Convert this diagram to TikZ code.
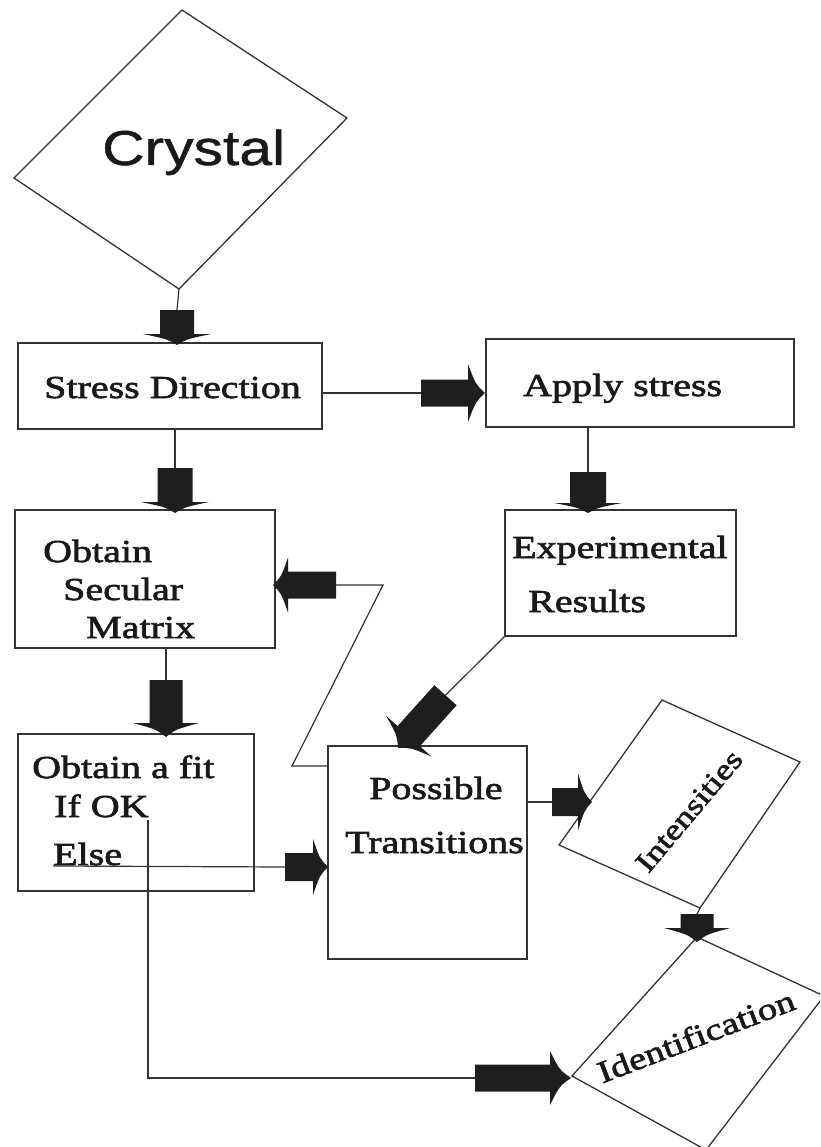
\documentclass[tikz,border=0pt]{standalone}
\usepackage{fontspec}
\setmainfont{Liberation Serif}[FakeStretch=1.25,FakeBold=2]
\newfontfamily\crysfont{Liberation Sans}[FakeStretch=1.2,FakeBold=1]
\usetikzlibrary{calc}
\definecolor{linec}{HTML}{333333}
\definecolor{arrowfill}{HTML}{1E1E1E}
\newcommand\lblfont{\fontsize{32}{38}\selectfont}
% name, tip, angle, shaft length, shaft half width, head length, head half width
\newcommand\barrow[7]{%
  \begin{scope}[shift={#2},rotate=#3]
    \fill[arrowfill] (0,0) .. controls ({-0.55*#6},{0.3*#7}) .. ({-#6},{#7})
      -- ({-#6},{#5}) -- ({-#6-#4},{#5}) -- ({-#6-#4},{-#5}) -- ({-#6},{-#5})
      -- ({-#6},{-#7}) .. controls ({-0.55*#6},{-0.3*#7}) .. (0,0) -- cycle;
    \coordinate (#1) at ({-#6-#4},0);
  \end{scope}}
\begin{document}
\begin{tikzpicture}[x=1pt,y=-1pt,
  box/.style={draw=linec, line width=1.3pt, rectangle, inner sep=0pt},
  shapeline/.style={draw=linec, line width=1.3pt, line join=miter},
  conn/.style={draw=linec, line width=1.2pt},
  lbl/.style={anchor=base west, inner sep=0pt, font=\lblfont, text=black!90}]
\useasboundingbox (0,0) rectangle (820,1147);
\clip (0,0) rectangle (820,1147);
\fill[white] (0,0) rectangle (820,1147);

% Crystal diamond
\coordinate (cT) at (182,10);
\coordinate (cR) at (347,118);
\coordinate (cB) at (179,289);
\coordinate (cL) at (14,178);
\draw[shapeline] (cT) -- (cR) -- (cB) -- (cL) -- cycle;
\node[anchor=base west, inner sep=0pt, font=\crysfont\fontsize{49}{58}\selectfont, text=black!90] (tcr) at (102,165) {Crystal};

% Boxes
\node[box, minimum width=304pt, minimum height=86pt] (sd) at (170,386) {};
\node[box, minimum width=308pt, minimum height=88pt] (as) at (640,383) {};
\node[box, minimum width=260pt, minimum height=138pt] (osm) at (145,579) {};
\node[box, minimum width=231pt, minimum height=126pt] (er) at (620.5,573) {};
\node[box, minimum width=236pt, minimum height=157pt] (fit) at (136,812.5) {};
\node[box, minimum width=199pt, minimum height=213pt] (pt) at (427.5,852.5) {};

% Labels
\node[lbl] (tsd) at (44,398) {Stress Direction};
\node[lbl] (tas) at (523,396) {Apply stress};
\node[lbl] (to1) at (43,562) {Obtain};
\node[lbl] (to2) at (63,600) {Secular};
\node[lbl] (to3) at (86,638) {Matrix};
\node[lbl] (te1) at (512,558) {Experimental};
\node[lbl] (te2) at (528,612) {Results};
\node[lbl] (tf1) at (32,778) {Obtain a fit};
\node[lbl] (tf2) at (54,817) {If OK};
\node[lbl] (tf3) at (53,865) {Else};
\node[lbl] (tp1) at (369,799) {Possible};
\node[lbl] (tp2) at (345,853) {Transitions};

% Intensities
\coordinate (iT) at (662,700);
\coordinate (iR) at (800,762);
\coordinate (iB) at (700,908);
\coordinate (iL) at (559,845);
\draw[shapeline] (iT) -- (iR) -- (iB) -- (iL) -- cycle;
\node[inner sep=0pt, font=\fontsize{29}{34}\selectfont, text=black!90, rotate=50] (tint) at (689,811) {Intensities};

% Identification
\coordinate (dT) at (697,937);
\coordinate (dR) at (824,996);
\coordinate (dB) at (706,1150);
\coordinate (dL) at (572,1076);
\draw[shapeline] (dT) -- (dR) -- (dB) -- (dL) -- cycle;
\node[inner sep=0pt, font=\fontsize{31}{36}\selectfont, text=black!90, rotate=21] (tid) at (696,1036) {Identification};

% Block arrows
\barrow{a1}{(177,345)}{-90}{24}{17}{11}{34}
\barrow{a2}{(485,393)}{0}{47}{13.5}{17}{29}
\barrow{a3}{(175,513)}{-90}{34}{17.5}{11}{34}
\barrow{a4}{(588,513)}{-90}{31}{18}{10}{34}
\barrow{a5}{(166,737)}{-90}{43}{16.5}{14}{33}
\barrow{a6}{(273,585)}{180}{48}{13.5}{15}{27.5}
\barrow{a7}{(398,748)}{-132}{55}{15}{16}{30.5}
\barrow{a8}{(328,867)}{0}{28}{14}{15}{28}
\barrow{a9}{(592,802)}{0}{26}{14}{14}{28.5}
\barrow{a10}{(697,942)}{-90}{14}{16.5}{14}{33}
\barrow{a11}{(571,1078)}{0}{75}{13.5}{21}{27}

% Connectors
\draw[conn] (cB) -- (a1);
\draw[conn] (sd.east |- a2) -- (a2);
\draw[conn] (sd.south -| a3) -- (a3);
\draw[conn] (as.south -| a4) -- (a4);
\draw[conn] (osm.south -| a5) -- (a5);
\coordinate (fb1) at (292,766);
\coordinate (fb2) at (383,585);
\draw[conn] (pt.west |- fb1) -- (fb1) -- (fb2) -- (a6);
\draw[conn] (er.south west) -- (a7);
\coordinate (elseS) at (53,866);
\draw[conn] (elseS) -- (a8);
\coordinate (okS) at (148,820);
\draw[conn] (okS) -- (okS |- a11) -- (a11);
\draw[conn] (pt.east |- a9) -- (a9);
\draw[conn] (iB) -- (a10);
\end{tikzpicture}
\end{document}
